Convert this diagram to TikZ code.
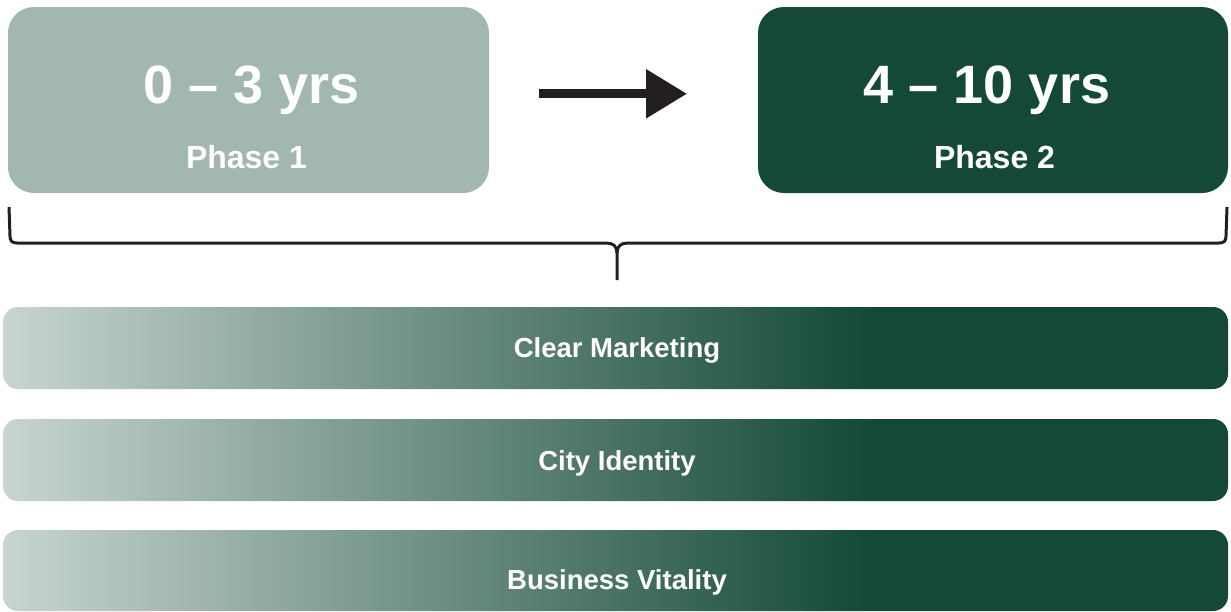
\documentclass[tikz,border=0pt]{standalone}
\usepackage{fontspec}
\setmainfont{Liberation Sans}
\usetikzlibrary{arrows.meta}
\definecolor{lightbox}{RGB}{161,183,175}
\definecolor{darkbox}{RGB}{19,73,53}
\definecolor{barlight}{RGB}{200,213,208}
\definecolor{bracecol}{RGB}{35,31,32}
\pgfdeclarehorizontalshading{barshade}{100bp}{color(0bp)=(barlight); color(25bp)=(barlight); color(60.4bp)=(darkbox); color(100bp)=(darkbox)}
\tikzset{
  phasebox/.style={rectangle, rounded corners=26pt, minimum height=186pt, inner sep=0pt},
  bigtext/.style={text=white, font=\bfseries\fontsize{54}{60}\selectfont, anchor=base, inner sep=0pt},
  phasetext/.style={text=white, font=\bfseries\fontsize{32}{36}\selectfont, anchor=base, inner sep=0pt},
  bar/.style={rectangle, rounded corners=15pt, minimum width=1225pt, minimum height=82pt, inner sep=0pt, shading=barshade},
  bartext/.style={text=white, font=\bfseries\fontsize{27.5}{31}\selectfont, anchor=base, inner sep=0pt},
  bracestyle/.style={draw=bracecol, line width=3pt, line join=round},
}
\begin{document}
\begin{tikzpicture}[x=1pt, y=-1pt]
\useasboundingbox (0,0) rectangle (1231,611);
% phase boxes
\node[phasebox, fill=lightbox, minimum width=481pt] (box1) at (248.5,100) {};
\node[phasebox, fill=darkbox, minimum width=470pt] (box2) at (993,100) {};
\node[bigtext] (t1) at (251.5,103) {0 – 3 yrs};
\node[phasetext] (p1) at (246.5,168) {Phase 1};
\node[bigtext] (t2) at (987,103) {4 – 10 yrs};
\node[phasetext] (p2) at (994.5,168) {Phase 2};
% arrow
\coordinate (as) at (539,93.8);
\coordinate (ae) at (687,93.8);
\draw[draw=bracecol, line width=9pt, -{Triangle[length=41pt,width=47pt]}] (as) -- (ae);
% brace
\coordinate (bl) at (9,207);
\coordinate (br) at (1227,207);
\coordinate (bt) at (617,280);
\draw[bracestyle] (bl) -- (10,236) .. controls (10,241) and (12,243) .. (17,243) -- (606,243)
  .. controls (613,243) and (617,246) .. (617,253) -- (bt);
\draw[bracestyle] (br) -- (1226,236) .. controls (1226,241) and (1224,243) .. (1219,243) -- (628,243)
  .. controls (621,243) and (617,246) .. (617,253);
% bars
\node[bar] (bar1) at (615.5,348) {};
\node[bar] (bar2) at (615.5,460) {};
\node[bar, minimum height=81pt] (bar3) at (615.5,570.5) {};
\node[bartext] (l1) at (617,357.5) {Clear Marketing};
\node[bartext] (l2) at (617,470) {City Identity};
\node[bartext] (l3) at (617,589) {Business Vitality};
\end{tikzpicture}
\end{document}
